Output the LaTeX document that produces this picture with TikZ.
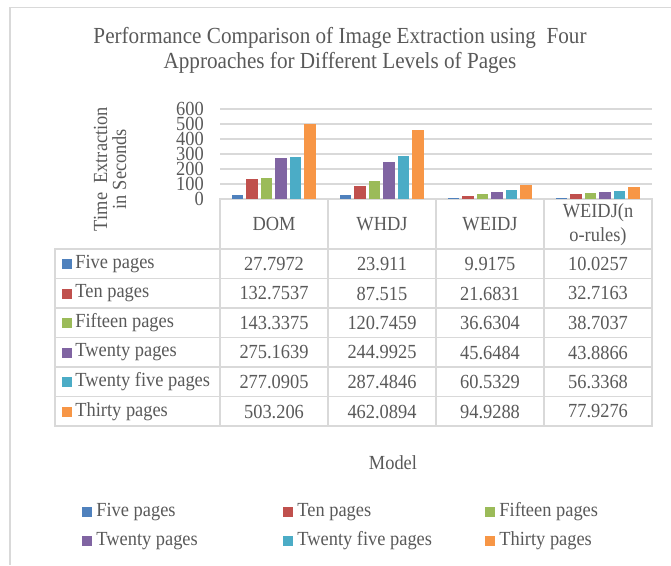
\documentclass[tikz,border=0pt]{standalone}
\usepackage{fontspec}
\setmainfont[FakeStretch=0.92]{Liberation Serif}
\usetikzlibrary{positioning}

\definecolor{ser0}{HTML}{4F81BD}
\definecolor{ser1}{HTML}{C0504D}
\definecolor{ser2}{HTML}{9BBB59}
\definecolor{ser3}{HTML}{8064A2}
\definecolor{ser4}{HTML}{4BACC6}
\definecolor{ser5}{HTML}{F79646}
\definecolor{inkgray}{HTML}{595959}
\definecolor{linegray}{HTML}{D9D9D9}

\begin{document}
\begin{tikzpicture}[x=1pt,y=-1pt,
  txt/.style={text=inkgray,inner sep=0pt,font=\fontsize{20}{19}\selectfont},
  cell/.style={txt,anchor=center},
  swatch/.style={minimum size=10pt,inner sep=0pt},
  rule/.style={draw=linegray,line width=1.2pt}]
  \useasboundingbox (0,0) rectangle (671,565);
  \draw[rule] (671,7.5) -- (10,7.5) -- (10,565);

  \node[txt,font=\fontsize{23}{25}\selectfont,align=center] (title) at (340,50)
    {Performance Comparison of Image Extraction using\ \ Four\\Approaches for Different Levels of Pages};

  % value axis
  \foreach \t in {100,200,...,600}
    \draw[rule] (220,{199-0.15*\t}) -- (652,{199-0.15*\t});
  \foreach \t in {0,100,...,600}
    \node[txt,anchor=east] (tick\t) at (204,{199-0.15*\t}) {\t};
  \node[txt,rotate=90,align=center] (ytitle) at (110,169) {Time\ \ Extraction\\in Seconds};

  % table grid
  \draw[rule] (220,199) rectangle (652,426);
  \draw[rule] (55,249) rectangle (652,426);
  \foreach \y in {278.5,308,337.5,367,396.5}
    \draw[rule] (55,\y) -- (652,\y);
  \foreach \x in {328,436,544}
    \draw[rule] (\x,199) -- (\x,426);

  % bars and values, one model per column
  \foreach \vals [count=\i from 0] in {
      {27.7972,132.7537,143.3375,275.1639,277.0905,503.206},
      {23.911,87.515,120.7459,244.9925,287.4846,462.0894},
      {9.9175,21.6831,36.6304,45.6484,60.5329,94.9288},
      {10.0257,32.7163,38.7037,43.8866,56.3368,77.9276}}
    \foreach \v [count=\j from 0] in \vals {
      \fill[ser\j] ({231.7+108*\i+14.5*\j},199) rectangle ++(11.5,{-0.15*\v});
      \node[cell] (v\i\j) at ({274+108*\i},{264+29.5*\j}) {\v};
    }

  \node[cell] (dom) at (274,224) {DOM};
  \node[cell] (whdj) at (382,224) {WHDJ};
  \node[cell] (weidj) at (490,224) {WEIDJ};
  \node[cell,align=center,font=\fontsize{20}{24}\selectfont] (weidjnr) at (598,225) {WEIDJ(n\\o-rules)};

  % series names down the side of the table
  \foreach \name [count=\j from 0] in {Five pages,Ten pages,Fifteen pages,Twenty pages,Twenty five pages,Thirty pages} {
    \node[swatch,fill=ser\j] (sw\j) at (67,{264+29.5*\j}) {};
    \node[txt,right=3pt of sw\j] (row\j) {\name};
  }

  \node[txt] (model) at (393,463) {Model};

  % legend
  \foreach \name/\x/\y [count=\j from 0] in {Five pages/87/512,Ten pages/288/512,Fifteen pages/490/512,
      Twenty pages/87/541,Twenty five pages/288/541,Thirty pages/490/541} {
    \node[swatch,fill=ser\j] (key\j) at (\x,\y) {};
    \node[txt,right=4pt of key\j] (lab\j) {\name};
  }
\end{tikzpicture}
\end{document}
